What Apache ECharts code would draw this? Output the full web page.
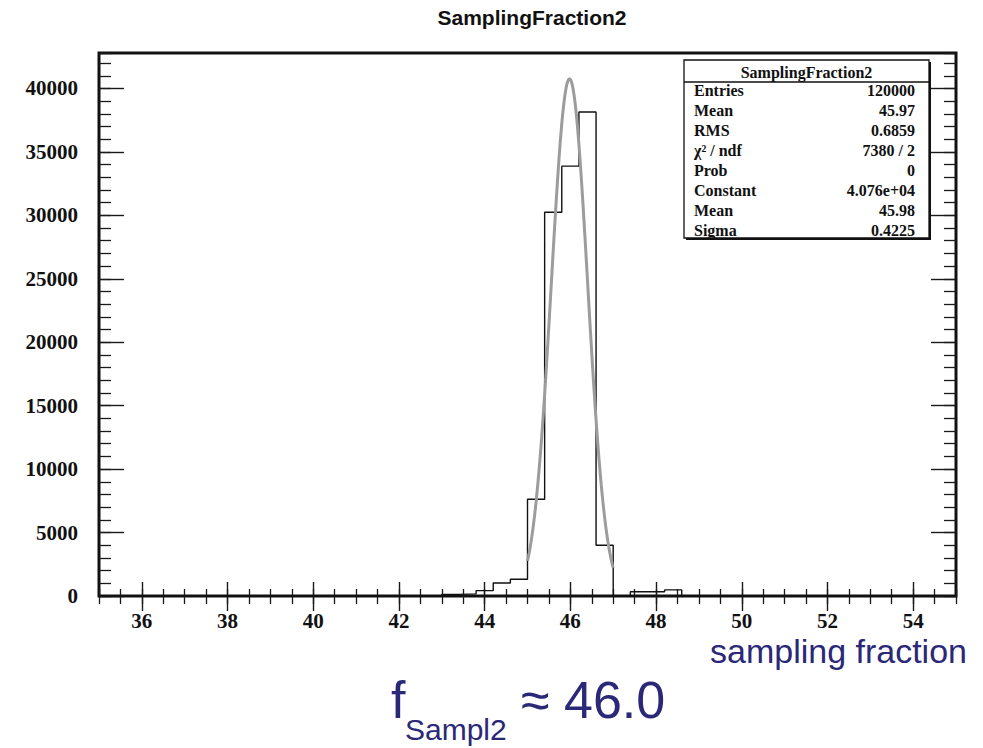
<!DOCTYPE html>
<html>
<head>
<meta charset="utf-8">
<title>SamplingFraction2</title>
<script src="https://cdn.jsdelivr.net/npm/echarts@6/dist/echarts.min.js"></script>
<style>
  html, body { margin: 0; padding: 0; background: #ffffff; }
  #chart { width: 983px; height: 748px; }
</style>
</head>
<body>
<div id="chart"></div>
<script>
// Histogram binning: 50 bins of width 0.4 from 35 to 55
const binLow = 35;
const binHigh = 55;
const binWidth = 0.4;

// Bin contents (entries per bin), bin i covers [35 + 0.4*i, 35 + 0.4*(i+1))
const binContents = [
  0, 0, 0, 0, 0, 0, 0, 0, 0, 0,
  0, 0, 0, 0, 0, 0, 0, 0, 0, 0,
  130, 170, 420, 1020, 1320, 7620, 30250, 33880, 38150, 4000,
  0, 330, 330, 480, 0, 0, 0, 0, 0, 0,
  0, 0, 0, 0, 0, 0, 0, 0, 0, 0
];

// Gaussian fit parameters and fit range
const fitConstant = 40760;
const fitMean = 45.98;
const fitSigma = 0.4225;
const fitRange = [45.0, 47.0];

// Axis ticks
const xMajorTicks = [36, 38, 40, 42, 44, 46, 48, 50, 52, 54];
const yMajorTicks = [0, 5000, 10000, 15000, 20000, 25000, 30000, 35000, 40000];
const yMax = 42798;

// Statistics box rows
const statsTitle = 'SamplingFraction2';
const statsLabels = ['Entries', 'Mean', 'RMS', 'χ² / ndf', 'Prob', 'Constant', 'Mean', 'Sigma'];
const statsValues = ['120000', '45.97', '0.6859', '7380 / 2', '0', '4.076e+04', '45.98', '0.4225'];

// Histogram outline as a step line through the bin low edges
const histPoints = binContents.map((v, i) => [+(binLow + binWidth * i).toFixed(2), v]);
histPoints.push([binHigh, binContents[binContents.length - 1]]);

// Fit curve sampled over the fit range
const fitPoints = [];
const nFit = 100;
for (let k = 0; k <= nFit; k++) {
  const x = fitRange[0] + (fitRange[1] - fitRange[0]) * k / nFit;
  const z = (x - fitMean) / fitSigma;
  fitPoints.push([x, fitConstant * Math.exp(-0.5 * z * z)]);
}

const serif = '"Liberation Serif", "Times New Roman", serif';
const sans = '"Liberation Sans", Arial, sans-serif';
const ink = '#1a1a1a';
const navy = '#2a2877';

const gridBox = { left: 99, right: 27, top: 53, bottom: 152 };

function xAxisDef(position, major) {
  return {
    type: 'value', position: position, min: binLow, max: binHigh,
    interval: major ? undefined : 0.5,
    axisLine: { show: false },
    splitLine: { show: false },
    axisTick: major
      ? { show: true, inside: true, length: position === 'top' ? 15 : 14, customValues: xMajorTicks, lineStyle: { color: ink, width: 1.4 } }
      : { show: true, inside: true, length: position === 'top' ? 8 : 7, lineStyle: { color: ink, width: 1.3 } },
    axisLabel: (major && position === 'bottom')
      ? { show: true, customValues: xMajorTicks, margin: 14, color: '#111', fontFamily: serif, fontWeight: 'bold', fontSize: 21 }
      : { show: false }
  };
}

function yAxisDef(position, major) {
  return {
    type: 'value', position: position, min: 0, max: yMax,
    interval: major ? undefined : 1000,
    axisLine: { show: false },
    splitLine: { show: false },
    axisTick: major
      ? { show: true, inside: true, length: 25, customValues: yMajorTicks, lineStyle: { color: ink, width: 1.4 } }
      : { show: true, inside: true, length: 12, lineStyle: { color: ink, width: 1.3 } },
    axisLabel: (major && position === 'left')
      ? { show: true, customValues: yMajorTicks, margin: 21, color: '#111', fontFamily: serif, fontWeight: 'bold', fontSize: 21,
          formatter: (v) => String(Math.round(v)) }
      : { show: false }
  };
}

// Statistics box drawn as graphic elements
const boxX = 684, boxY = 60, boxW = 245, boxH = 178, headH = 22, rowH = 20;
const statsGraphics = [
  { type: 'rect', shape: { x: boxX + 2, y: boxY + 2, width: boxW, height: boxH }, style: { fill: '#111' }, z: 100 },
  { type: 'rect', shape: { x: boxX, y: boxY, width: boxW, height: boxH }, style: { fill: '#fff', stroke: '#111', lineWidth: 1.3 }, z: 101 },
  { type: 'line', shape: { x1: boxX, y1: boxY + headH, x2: boxX + boxW, y2: boxY + headH }, style: { stroke: '#111', lineWidth: 1.3 }, z: 102 },
  { type: 'text', x: boxX + boxW / 2, y: boxY + headH / 2 + 1, z: 102,
    style: { text: statsTitle, fill: '#111', font: 'bold 16px ' + serif, align: 'center', verticalAlign: 'middle' } }
];
statsLabels.forEach((lab, i) => {
  const cy = boxY + headH + 8 + rowH * i;
  statsGraphics.push({ type: 'text', x: boxX + 10, y: cy, z: 102,
    style: { text: lab, fill: '#111', font: 'bold 16px ' + serif, align: 'left', verticalAlign: 'middle' } });
  statsGraphics.push({ type: 'text', x: boxX + boxW - 14, y: cy, z: 102,
    style: { text: statsValues[i], fill: '#111', font: 'bold 16px ' + serif, align: 'right', verticalAlign: 'middle' } });
});

// Title, axis caption and the sampling fraction result
const textGraphics = [
  { type: 'text', x: 532, y: 17, z: 110,
    style: { text: 'SamplingFraction2', fill: '#111', font: 'bold 21px ' + sans, align: 'center', verticalAlign: 'middle' } },
  { type: 'text', x: 967, y: 634, z: 110,
    style: { text: 'sampling fraction', fill: navy, font: '34px ' + sans, align: 'right', verticalAlign: 'top' } },
  { type: 'text', x: 391, y: 674, z: 110,
    style: { text: 'f', fill: navy, font: '52px ' + sans, align: 'left', verticalAlign: 'top' } },
  { type: 'text', x: 405, y: 714, z: 110,
    style: { text: 'Sampl2', fill: navy, font: '30px ' + sans, align: 'left', verticalAlign: 'top' } },
  { type: 'text', x: 521, y: 674, z: 110,
    style: { text: '≈ 46.0', fill: navy, font: '52px ' + sans, align: 'left', verticalAlign: 'top' } }
];

const chart = echarts.init(document.getElementById('chart'), null, { renderer: 'svg' });
chart.setOption({
  animation: false,
  backgroundColor: '#ffffff',
  grid: Object.assign({ show: true, borderColor: '#111', borderWidth: 3, backgroundColor: 'transparent' }, gridBox),
  xAxis: [xAxisDef('bottom', true), xAxisDef('bottom', false), xAxisDef('top', true), xAxisDef('top', false)],
  yAxis: [yAxisDef('left', true), yAxisDef('left', false), yAxisDef('right', true), yAxisDef('right', false)],
  series: [
    {
      name: 'SamplingFraction2', type: 'line', step: 'end', data: histPoints,
      xAxisIndex: 0, yAxisIndex: 0, showSymbol: false, silent: true,
      lineStyle: { color: '#111', width: 1.4 }, z: 3
    },
    {
      name: 'gaus', type: 'line', data: fitPoints,
      xAxisIndex: 0, yAxisIndex: 0, showSymbol: false, silent: true, smooth: false,
      lineStyle: { color: '#9c9c9c', width: 3 }, z: 4
    }
  ],
  graphic: statsGraphics.concat(textGraphics)
});
</script>
</body>
</html>
